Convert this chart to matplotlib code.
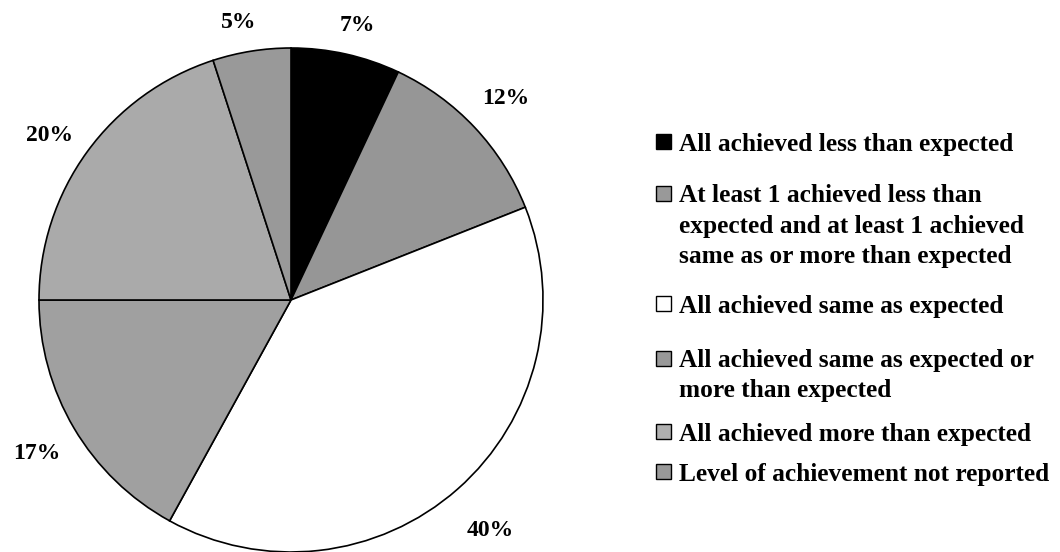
import numpy as np
import matplotlib.pyplot as plt
from matplotlib.patches import Rectangle

plt.rcParams['font.family'] = ['Liberation Serif', 'DejaVu Serif']
plt.rcParams['font.weight'] = 'bold'

categories = ['All achieved less than expected',
              'At least 1 achieved less than\nexpected and at least 1 achieved\nsame as or more than expected',
              'All achieved same as expected',
              'All achieved same as expected or\nmore than expected',
              'All achieved more than expected',
              'Level of achievement not reported']
shares = [7, 12, 39, 17, 20, 5]
pct_labels = ['7%', '12%', '40%', '17%', '20%', '5%']
colors = ['#000000', '#969696', '#ffffff', '#a0a0a0', '#aaaaaa', '#999999']
legend_colors = ['#000000', '#999999', '#ffffff', '#999999', '#b0b0b0', '#999999']

W, H = 1060, 552
fig = plt.figure(figsize=(W / 100, H / 100), dpi=100)
ax = fig.add_axes([36 / W, 0 / H, 510 / W, 504 / H])

wedges, texts = ax.pie(shares, colors=colors, labels=pct_labels, startangle=90,
                       counterclock=False, radius=1,
                       wedgeprops={'edgecolor': 'black', 'linewidth': 1.2},
                       textprops={'fontsize': 17, 'fontweight': 'bold'})

# label placement: distance from centre (in radii) and small angular nudge
label_dist = [1.12, 1.17, 1.21, 1.18, 1.16, 1.12]
label_shift = [-0.9, 0, -0.5, 0.5, 1.8, 1.7]
for w, t, d, s in zip(wedges, texts, label_dist, label_shift):
    ang = np.deg2rad((w.theta1 + w.theta2) / 2 + s)
    t.set_position((d * np.cos(ang), d * np.sin(ang)))
    t.set_ha('center')
    t.set_va('center')
    t.set_clip_on(False)
ax.set_xlim(-1, 1)
ax.set_ylim(-1, 1)
ax.axis('off')

# legend drawn by hand so the box sits by the first line of each entry
first_line_y = [144, 196, 306, 361, 434, 474]
line_step = 30
for label, c, y0 in zip(categories, legend_colors, first_line_y):
    fig.patches.append(Rectangle((656 / W, 1 - (y0 + 5) / H), 15 / W, 15 / H,
                                 transform=fig.transFigure, facecolor=c,
                                 edgecolor='black', linewidth=1))
    for i, line in enumerate(label.split('\n')):
        fig.text(679 / W, 1 - (y0 + i * line_step) / H, line, fontsize=18.3,
                 fontweight='bold', ha='left', va='center')

fig.savefig('out.png', dpi=100)
